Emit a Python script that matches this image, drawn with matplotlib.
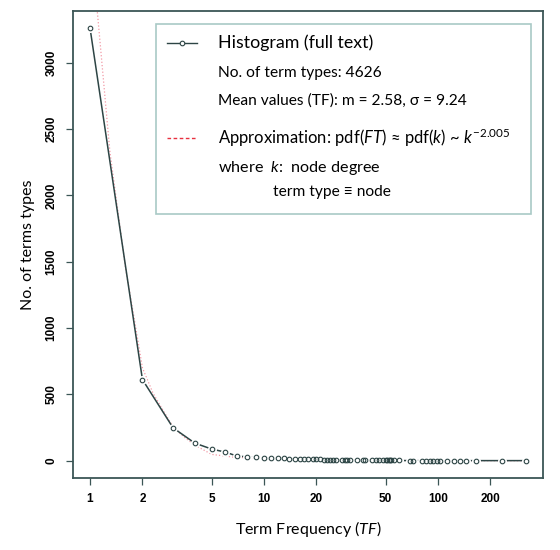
"""Term frequency histogram with power-law approximation (legend drawn by hand)."""
import matplotlib; matplotlib.use('Agg')
import matplotlib.pyplot as plt
from matplotlib.patches import Rectangle
from matplotlib.lines import Line2D

# --- data ---
tf = [1, 2, 3, 4, 5, 6, 7, 8, 9, 10, 11, 12, 13, 14, 15, 16, 17, 18, 19, 20,
      21, 22, 23, 24, 25, 26, 28, 29, 30, 31, 34, 37, 38, 42, 44, 46, 48, 50,
      51, 52, 53, 54, 56, 60, 69, 72, 81, 85, 90, 94, 98, 103, 112, 123, 134,
      144, 166, 233, 322]
counts = [3260, 612, 248, 133, 88, 65, 35, 30, 25, 22, 20, 19, 17, 16, 15, 14,
          13, 12, 11, 15, 12, 7, 7, 7, 7, 5, 6, 6, 5, 4, 5, 3, 3, 3, 2, 2, 2, 2,
          2, 2, 2, 2, 2, 2, 1, 1, 1, 1, 1, 1, 1, 1, 1, 1, 1, 1, 1, 1, 1]
approx_x = [1.06, 1.1, 1.3, 1.6, 1.8, 2.0, 2.3, 2.6, 3.0, 3.5, 4.0, 5.0, 6.6,
            10, 20, 50, 100, 322]
approx_y = [3700, 3390, 2330, 1450, 1060, 700, 510, 390, 255, 175, 118, 48, 28,
            15, 5, 2, 1, 0]
yticks = [0, 500, 1000, 1500, 2000, 2500, 3000]
xticks = [1, 2, 5, 10, 20, 50, 100, 200]

FRAME = '#3b5656'
LINE = '#2d4545'
PINK = '#f29aa6'
LABEL_FONT = ['Lato', 'DejaVu Sans']

plt.rcParams['mathtext.fontset'] = 'custom'
plt.rcParams['mathtext.rm'] = 'Lato'
plt.rcParams['mathtext.it'] = 'Lato:italic'

W, H = 560, 550
fig = plt.figure(figsize=(W / 100, H / 100), dpi=100)
ax = fig.add_axes([73 / W, 1 - 478 / H, (543 - 73) / W, (478 - 11) / H])

def px(x, y):
    return x / W, 1 - y / H

# curve, then type="b" style histogram (line with gaps around points)
ax.plot(approx_x, approx_y, ls=':', color=PINK, lw=0.9, zorder=1)
ax.plot(tf, counts, color=LINE, lw=1.1, zorder=2)
ax.plot(tf, counts, ls='none', marker='o', ms=6.5, mfc='white', mec='none', zorder=3)
ax.plot(tf, counts, ls='none', marker='o', ms=3.3, mfc='none', mec=LINE, mew=0.8, zorder=4)

ax.set_xscale('log')
ax.set_xlim(0.798, 401)
ax.set_ylim(-130, 3390)
ax.set_xticks(xticks)
ax.set_xticklabels([str(t) for t in xticks])
ax.minorticks_off()
ax.set_yticks(yticks)
ax.set_yticklabels([str(t) for t in yticks], rotation=90, va='center')
for lab in ax.get_xticklabels() + ax.get_yticklabels():
    lab.set_family('Liberation Sans'); lab.set_fontweight('bold'); lab.set_fontsize(8.5)
ax.tick_params(axis='x', length=5, width=0.9, color=FRAME, pad=6)
ax.tick_params(axis='y', length=5, width=0.9, color=FRAME, pad=6)
for s in ax.spines.values():
    s.set_color(FRAME); s.set_linewidth(1.3)

ax.set_xlabel('Term Frequency ($\\mathit{TF}$)', family=LABEL_FONT, fontsize=11.5, labelpad=10)
ax.set_ylabel('No. of terms types', family=LABEL_FONT, fontsize=11.5, labelpad=8)

# --- legend box ---
x0, y0 = px(156, 214)
x1, y1 = px(531, 24)
fig.add_artist(Rectangle((x0, y0), x1 - x0, y1 - y0, transform=fig.transFigure,
                         facecolor='white', edgecolor='#a9c9c6', lw=1.2, zorder=5))
fig.add_artist(Line2D([px(167, 0)[0], px(197, 0)[0]], [px(0, 43)[1]] * 2,
                      transform=fig.transFigure, color=LINE, lw=1, zorder=6))
fig.add_artist(Line2D([px(182, 0)[0]], [px(0, 43)[1]], transform=fig.transFigure,
                      marker='o', ms=3.3, mfc='white', mec=LINE, mew=0.8, zorder=7))
fig.add_artist(Line2D([px(167, 0)[0], px(197, 0)[0]], [px(0, 138)[1]] * 2,
                      transform=fig.transFigure, color='#e8303f', lw=1, ls=(0, (2.6, 1.8)), zorder=6))

tx = 218
fig.text(*px(tx, 43), 'Histogram (full text)', family=LABEL_FONT, fontsize=12.8, va='center', zorder=8)
fig.text(*px(tx, 73), 'No. of term types: 4626', family=LABEL_FONT, fontsize=11.2, va='center', zorder=8)
fig.text(*px(tx, 101), 'Mean values (TF): m = 2.58, σ = 9.24', family=LABEL_FONT, fontsize=11.2,
         va='center', zorder=8)
fig.text(*px(tx, 138), 'Approximation: pdf($\\mathit{FT}$) ≈ pdf($k$) ~ $k^{-2.005}$',
         family=LABEL_FONT, fontsize=12, va='center', zorder=8)
fig.text(*px(tx, 168), 'where  $k$:  node degree', family=LABEL_FONT, fontsize=11.6, va='center', zorder=8)
fig.text(*px(273, 192), 'term type ≡ node', family=LABEL_FONT, fontsize=11.2, va='center', zorder=8)

fig.savefig('out.png', dpi=100)
